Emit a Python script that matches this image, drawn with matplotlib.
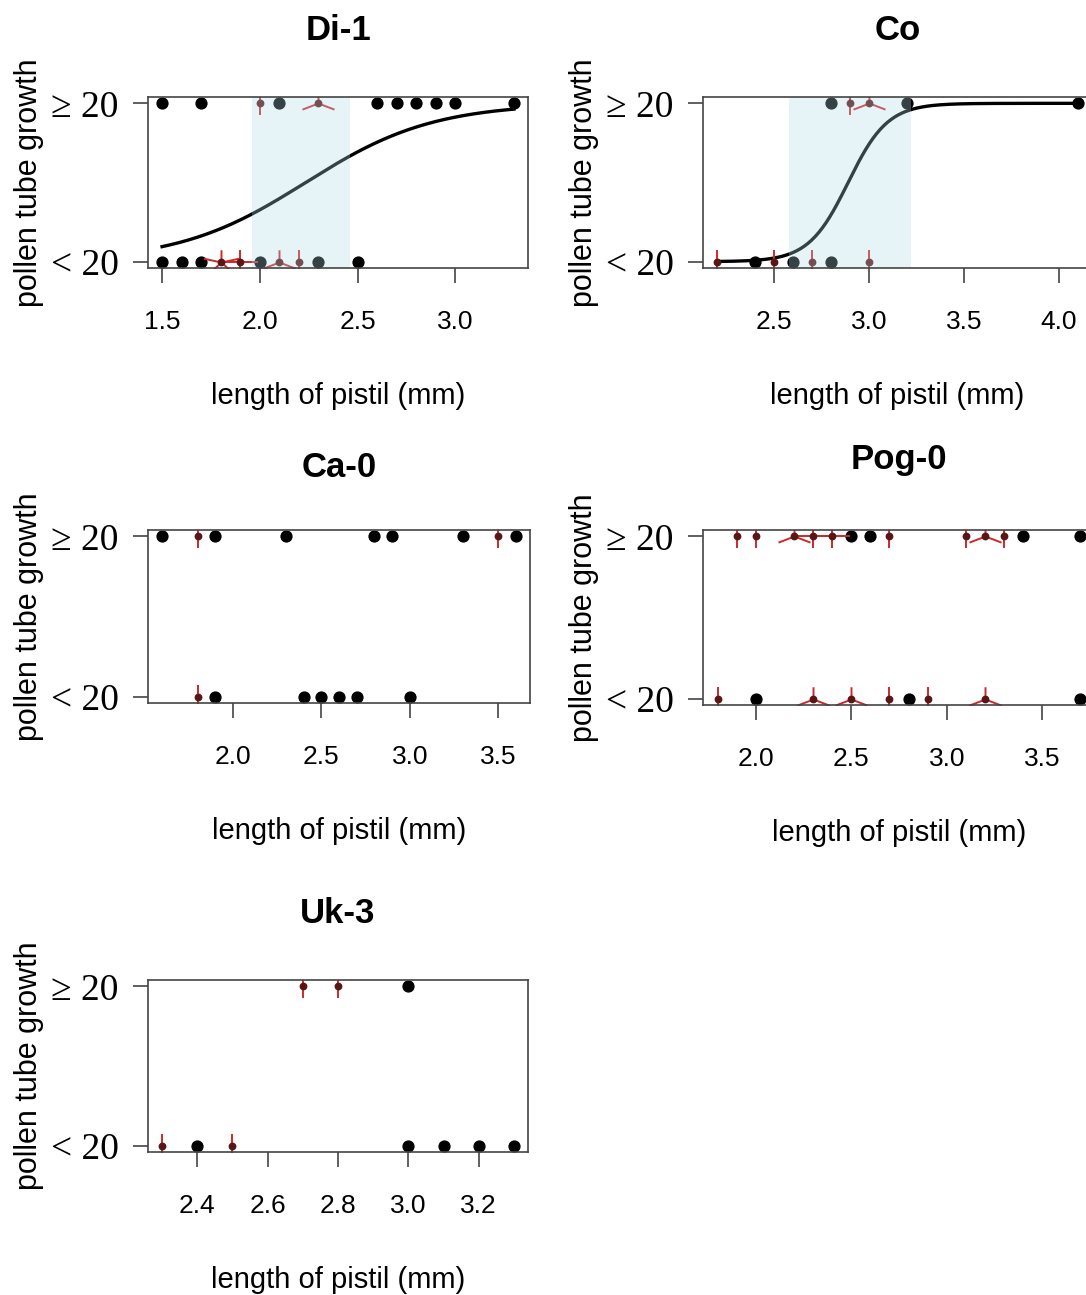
import matplotlib
matplotlib.use("Agg")
import matplotlib.pyplot as plt
import numpy as np
from matplotlib.path import Path
from matplotlib.markers import MarkerStyle

plt.rcParams["font.family"] = ["Liberation Sans", "DejaVu Sans"]

# ---- data (x = pistil length, n = number of pistils) ----
di1_top_x = [1.5, 1.7, 2.0, 2.1, 2.3, 2.6, 2.7, 2.8, 2.9, 3.0, 3.3]
di1_top_n = [1, 1, 2, 1, 3, 1, 1, 1, 1, 1, 1]
di1_bot_x = [1.5, 1.6, 1.7, 1.8, 1.9, 2.0, 2.1, 2.2, 2.3, 2.5]
di1_bot_n = [1, 1, 1, 5, 4, 1, 3, 2, 1, 1]
di1_fit = (-6.86, 3.07)          # logistic intercept, slope
di1_band = (1.96, 2.46)

co_top_x = [2.8, 2.9, 3.0, 3.2, 4.1]
co_top_n = [1, 2, 3, 1, 1]
co_bot_x = [2.2, 2.4, 2.5, 2.6, 2.7, 2.8, 3.0]
co_bot_n = [2, 1, 2, 1, 2, 1, 2]
co_fit = (-27.74, 9.6)
co_band = (2.58, 3.22)

ca0_top_x = [1.6, 1.8, 1.9, 2.3, 2.8, 2.9, 3.3, 3.5, 3.6]
ca0_top_n = [1, 2, 1, 1, 1, 1, 1, 2, 1]
ca0_bot_x = [1.8, 1.9, 2.4, 2.5, 2.6, 2.7, 3.0]
ca0_bot_n = [2, 1, 1, 1, 1, 1, 1]

pog0_top_x = [1.9, 2.0, 2.2, 2.3, 2.4, 2.5, 2.6, 2.7, 3.1, 3.2, 3.3, 3.4, 3.7]
pog0_top_n = [2, 2, 3, 4, 4, 1, 1, 2, 2, 3, 2, 1, 1]
pog0_bot_x = [1.8, 2.0, 2.3, 2.5, 2.7, 2.8, 2.9, 3.2, 3.7]
pog0_bot_n = [2, 1, 3, 3, 2, 1, 2, 3, 1]

uk3_top_x = [2.7, 2.8, 3.0]
uk3_top_n = [2, 2, 1]
uk3_bot_x = [2.3, 2.4, 2.5, 3.0, 3.1, 3.2, 3.3]
uk3_bot_n = [2, 1, 2, 1, 1, 1, 1]

di1_ticks = [1.5, 2.0, 2.5, 3.0]
co_ticks = [2.5, 3.0, 3.5, 4.0]
ca0_ticks = [2.0, 2.5, 3.0, 3.5]
pog0_ticks = [2.0, 2.5, 3.0, 3.5]
uk3_ticks = [2.4, 2.6, 2.8, 3.0, 3.2]

y_labels = ["< 20", "\u2265 20"]

W, H = 1086, 1295
fig = plt.figure(figsize=(W / 100, H / 100), dpi=100)

EDGE = "#444444"
PETAL = "#cc2a2a"


def petal_marker(n, xr=13.3, yr=8.8):
    verts, codes = [], []
    for k in range(1, n + 1):
        a = 2 * np.pi * k / n
        verts += [(0, 0), (xr * np.sin(a), yr * np.cos(a))]
        codes += [Path.MOVETO, Path.LINETO]
    verts = np.array(verts)
    return MarkerStyle(Path(verts, codes)), 2 * np.abs(verts).max()


def panel(rect_px, title, top_x, top_n, bot_x, bot_n, ticks, fit=None, band=None,
          title_pad=41):
    left, top, width, height = rect_px
    ax = fig.add_axes([left / W, 1 - (top + height) / H, width / W, height / H])
    xs = np.array(top_x + bot_x)
    ys = np.array([1] * len(top_x) + [0] * len(bot_x))
    ns = np.array(top_n + bot_n)
    lo, hi = xs.min(), xs.max()
    pad = 0.04 * (hi - lo)
    ax.set_xlim(lo - pad, hi + pad)
    ax.set_ylim(-0.04, 1.04)

    single = ns == 1
    ax.plot(xs[single], ys[single], "o", color="black", ms=7.8, zorder=3)
    for x, y, n in zip(xs[~single], ys[~single], ns[~single]):
        m, ms = petal_marker(n)
        ax.plot([x], [y], ls="none", marker=m, ms=ms, mec=PETAL, mfc="none",
                mew=1.4, zorder=3)
    ax.plot(xs[~single], ys[~single], "o", color="#5a1515", ms=4.6, zorder=4)

    if fit is not None:
        xx = np.linspace(lo, hi, 200)
        ax.plot(xx, 1 / (1 + np.exp(-(fit[0] + fit[1] * xx))), color="black",
                lw=2.4, zorder=2)
    if band is not None:
        ax.axvspan(band[0], band[1], color="lightblue", alpha=0.3, lw=0, zorder=5)

    for s in ax.spines.values():
        s.set_color(EDGE)
        s.set_linewidth(1.2)
        s.set_zorder(6)
    ax.set_xticks(ticks)
    ax.set_xticklabels([f"{t:.1f}" for t in ticks])
    ax.set_yticks([0, 1])
    ax.set_yticklabels(y_labels, family=["Liberation Serif", "DejaVu Serif"],
                       fontsize=27)
    ax.tick_params(axis="x", length=11, width=1.2, color=EDGE, pad=19,
                   labelsize=19)
    ax.tick_params(axis="y", length=11, width=1.2, color=EDGE, pad=10)
    ax.set_title(title, fontsize=25, fontweight="bold", pad=title_pad)
    ax.set_xlabel("length of pistil (mm)", fontsize=21, va="center")
    ax.xaxis.set_label_coords(0.5, -128 / height)
    ax.set_ylabel("pollen tube growth", fontsize=22, va="center")
    ax.yaxis.set_label_coords(-119 / width, 0.5)
    return ax


panel((148, 97, 380, 171), "Di-1", di1_top_x, di1_top_n, di1_bot_x, di1_bot_n,
      di1_ticks, di1_fit, di1_band)
panel((703, 97, 389, 171), "Co", co_top_x, co_top_n, co_bot_x, co_bot_n,
      co_ticks, co_fit, co_band)
panel((148, 530, 382, 173), "Ca-0", ca0_top_x, ca0_top_n, ca0_bot_x, ca0_bot_n,
      ca0_ticks, title_pad=38)
panel((703, 530, 392, 175), "Pog-0", pog0_top_x, pog0_top_n, pog0_bot_x,
      pog0_bot_n, pog0_ticks, title_pad=44)
panel((148, 980, 380, 172), "Uk-3", uk3_top_x, uk3_top_n, uk3_bot_x, uk3_bot_n,
      uk3_ticks)

fig.savefig("out.png", dpi=100)
